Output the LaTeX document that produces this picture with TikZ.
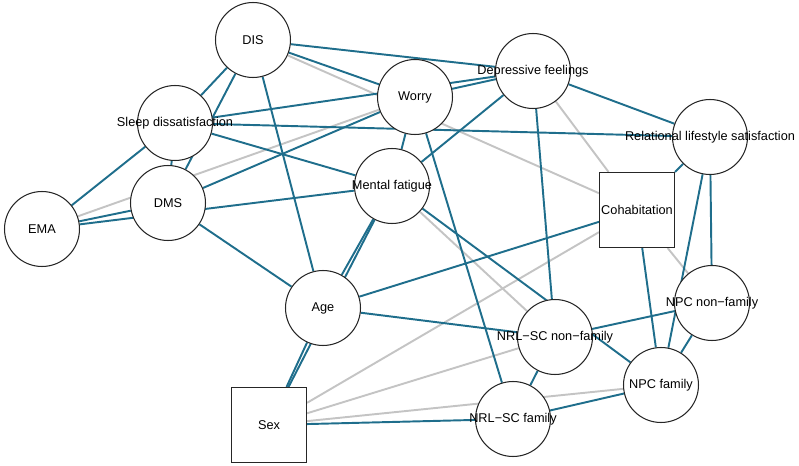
\documentclass[tikz,border=0pt]{standalone}
\usepackage{fontspec}
\setmainfont{Liberation Sans}
\usepackage{xcolor}
\definecolor{posedge}{HTML}{1F6E8C}
\definecolor{negedge}{HTML}{C4C4C4}
\pgfdeclarelayer{background}
\pgfsetlayers{background,main}

\begin{document}
\begin{tikzpicture}[
    x=0.02cm, y=-0.02cm,
    var/.style={
        circle,
        draw=black!85,
        fill=white,
        line width=0.6pt,
        minimum size=1.5cm,
        inner sep=0pt,
    },
    fixed/.style={
        rectangle,
        draw=black!85,
        fill=white,
        line width=0.6pt,
        minimum size=1.5cm,
        inner sep=0pt,
    },
    every label/.style={font=\fontsize{7.25}{8}\selectfont, inner sep=0pt},
    poslink/.style={line width=1.1pt, color=posedge},
    neglink/.style={line width=1.1pt, color=negedge},
]
\useasboundingbox (0,0) rectangle (799,466);

\node[var, label=center:DIS] (dis) at (253,40) {};
\node[var, label=center:Sleep dissatisfaction] (sleep) at (175,123) {};
\node[var, label=center:EMA] (ema) at (42,229) {};
\node[var, label=center:DMS] (dms) at (168,203) {};
\node[var, label=center:Worry] (worry) at (415,97) {};
\node[var, label=center:Depressive feelings] (dep) at (533,71) {};
\node[var, label=center:Mental fatigue] (mental) at (392,186) {};
\node[var, label=center:Relational lifestyle satisfaction] (rls) at (710,137) {};
\node[fixed, label=center:Cohabitation] (cohab) at (637,210) {};
\node[var, label=center:Age] (age) at (323,308) {};
\node[fixed, label=center:Sex] (sex) at (269,425) {};
\node[var, label=center:NRL−SC non−family] (nrlnf) at (555,337) {};
\node[var, label=center:NPC non−family] (npcnf) at (712,303) {};
\node[var, label=center:NPC family] (npcf) at (661,385) {};
\node[var, label=center:NRL−SC family] (nrlf) at (513,419) {};

% edges go under the nodes
\begin{pgfonlayer}{background}
\draw[neglink] (dis) -- (cohab);
\draw[neglink] (ema) -- (worry);
\draw[neglink] (dep) -- (cohab);
\draw[neglink] (mental) -- (nrlnf);
\draw[neglink] (sex) -- (cohab);
\draw[neglink] (sex) -- (nrlnf);
\draw[neglink] (sex) -- (npcf);
\draw[neglink] (cohab) -- (npcnf);

\draw[poslink] (dis) -- (dep);
\draw[poslink] (dis) -- (worry);
\draw[poslink] (dis) -- (sleep);
\draw[poslink] (dis) -- (dms);
\draw[poslink] (dis) -- (age);
\draw[poslink] (sleep) -- (dep);
\draw[poslink] (sleep) -- (rls);
\draw[poslink] (sleep) -- (mental);
\draw[poslink] (sleep) -- (ema);
\draw[poslink] (sleep) -- (dms);
\draw[poslink] (ema) -- (dms);
\draw[poslink] (ema) -- (mental);
\draw[poslink] (dms) -- (worry);
\draw[poslink] (dms) -- (age);
\draw[poslink] (worry) -- (dep);
\draw[poslink] (worry) -- (mental);
\draw[poslink] (worry) -- (nrlf);
\draw[poslink] (dep) -- (mental);
\draw[poslink] (dep) -- (nrlnf);
\draw[poslink] (dep) -- (rls);
\draw[poslink] (mental) -- (age);
\draw[poslink] (mental) -- (sex);
\draw[poslink] (mental) -- (npcf);
\draw[poslink] (age) -- (sex);
\draw[poslink] (age) -- (cohab);
\draw[poslink] (age) -- (nrlnf);
\draw[poslink] (nrlnf) -- (npcnf);
\draw[poslink] (nrlnf) -- (nrlf);
\draw[poslink] (nrlf) -- (npcf);
\draw[poslink] (sex) -- (nrlf);
\draw[poslink] (npcf) -- (npcnf);
\draw[poslink] (cohab) -- (npcf);
\draw[poslink] (rls) -- (npcf);
\draw[poslink] (rls) -- (npcnf);
\draw[poslink] (rls) -- (cohab);
\end{pgfonlayer}

\end{tikzpicture}
\end{document}
